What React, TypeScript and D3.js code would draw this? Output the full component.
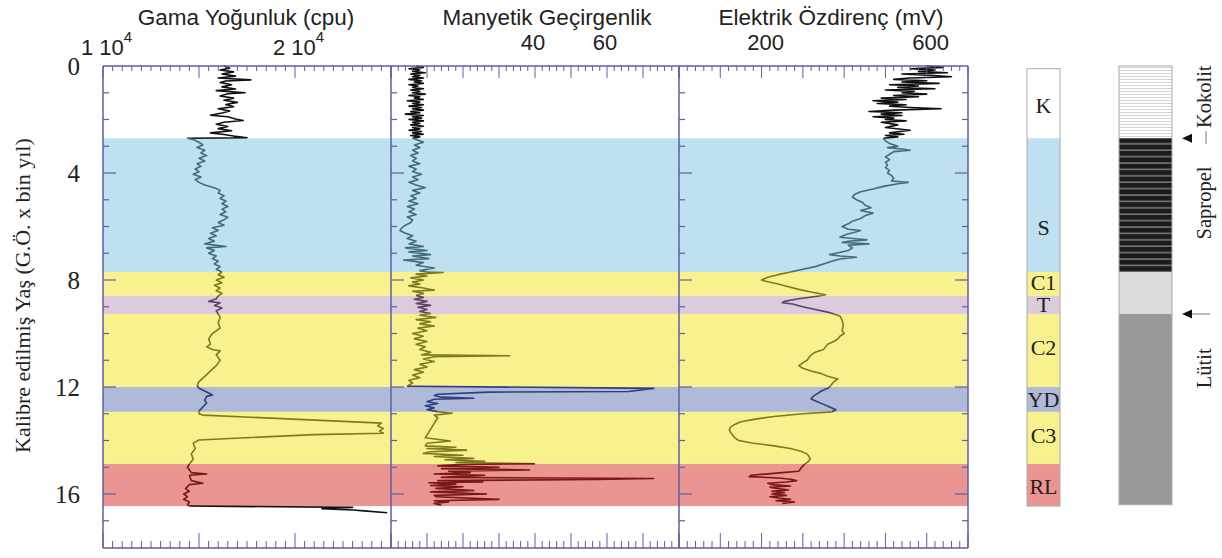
import React from 'react';
import * as d3 from 'd3';

// ---------- DATA ----------
const zoneNames = ['K', 'S', 'C1', 'T', 'C2', 'YD', 'C3', 'RL'];
const zoneStarts = [0.1, 2.7, 7.7, 8.6, 9.27, 12.0, 12.93, 14.88];
const zoneEnds = [2.7, 7.7, 8.6, 9.27, 12.0, 12.93, 14.88, 16.45];
const zoneLabelAges = [1.5, 6.05, 8.1, 8.95, 10.55, 12.5, 13.82, 15.72];

const lithKinds = ['Kokolit', 'Sapropel', 'Geçiş', 'Lütit'];
const lithStarts = [0, 2.7, 7.7, 9.27];
const lithEnds = [2.7, 7.7, 9.27, 16.4];
const lithLabels = ['Kokolit', 'Sapropel', 'Lütit'];
const lithLabelAges = [1.15, 5.12, 11.3];
const arrowAges = [2.7, 9.27];

const ageTicksMajor = [0, 4, 8, 12, 16];
const gammaTickLabels = [10000, 20000];
const magTickLabels = [40, 60];
const resTickLabels = [200, 600];

const panelTitles = ['Gama Yoğunluk (cpu)', 'Manyetik Geçirgenlik', 'Elektrik Özdirenç (mV)'];
const yTitle = 'Kalibre edilmiş Yaş (G.Ö. x bin yıl)';

// age (kyr), value
const gammaData: [number, number][] = [
  [0.0, 16300], [0.08, 16600], [0.15, 16100], [0.22, 16800], [0.3, 16200], [0.38, 16900], [0.45, 16000],
  [0.52, 17700], [0.56, 16400], [0.62, 16100], [0.7, 16700], [0.78, 16200], [0.86, 16900], [0.92, 15900],
  [1.0, 17400], [1.04, 16500], [1.12, 16100], [1.2, 16800], [1.28, 16300], [1.36, 17000], [1.44, 16400],
  [1.52, 16800], [1.6, 16000], [1.68, 16600], [1.76, 16200], [1.84, 15600], [1.9, 16500], [1.98, 16900],
  [2.04, 17300], [2.1, 16300], [2.18, 15900], [2.26, 16500], [2.34, 16000], [2.42, 16700], [2.5, 15600],
  [2.56, 16300], [2.62, 16800], [2.68, 17500], [2.7, 14400],
  [2.75, 14700], [2.85, 15000], [2.95, 15200], [3.05, 14900], [3.15, 15300], [3.25, 15100], [3.35, 15400],
  [3.45, 15000], [3.55, 15300], [3.65, 14900], [3.75, 15100], [3.85, 14800], [3.95, 15000], [4.05, 14700],
  [4.15, 15100], [4.25, 14800], [4.35, 15000], [4.45, 15300], [4.55, 15800], [4.65, 16100], [4.75, 16000],
  [4.85, 16300], [4.95, 16100], [5.05, 16400], [5.15, 16200], [5.25, 16500], [5.35, 16200], [5.45, 16400],
  [5.55, 16100], [5.65, 16500], [5.75, 16300], [5.85, 16000], [5.95, 16300], [6.05, 15700], [6.15, 16000],
  [6.25, 15600], [6.35, 15900], [6.45, 15500], [6.55, 15800], [6.65, 15300], [6.75, 16400], [6.8, 15400],
  [6.9, 15800], [7.0, 15500], [7.1, 15900], [7.2, 15700], [7.3, 16000], [7.4, 15800], [7.5, 16100],
  [7.6, 15900], [7.7, 16200],
  [7.8, 16000], [7.9, 16300], [8.0, 15900], [8.1, 16200], [8.2, 15800], [8.3, 16100], [8.4, 15900],
  [8.5, 16200], [8.6, 16000],
  [8.7, 15900], [8.8, 15500], [8.85, 16100], [8.95, 15800], [9.05, 16200], [9.15, 15900], [9.27, 16000],
  [9.4, 16100], [9.6, 16000], [9.8, 16100], [10.0, 15700], [10.2, 15500], [10.4, 15600], [10.5, 15400],
  [10.6, 15700], [10.65, 16100], [10.8, 15900], [11.0, 16100], [11.2, 15900], [11.4, 15600], [11.6, 15300],
  [11.8, 15000], [11.95, 14900],
  [12.05, 15000], [12.15, 15300], [12.3, 15700], [12.35, 15400], [12.5, 15300], [12.6, 15400], [12.75, 15200],
  [12.9, 15000],
  [13.0, 15000], [13.05, 15200], [13.35, 24500], [13.45, 24300], [13.55, 24600], [13.65, 24400], [13.73, 24600],
  [13.78, 21000], [13.98, 15000], [14.1, 14700], [14.3, 14800], [14.5, 14600], [14.7, 14700], [14.88, 14500],
  [15.0, 14400], [15.2, 14600], [15.25, 15400], [15.3, 14500], [15.5, 14600], [15.6, 15200], [15.65, 14500],
  [15.8, 14300], [15.9, 14500], [16.0, 14200], [16.1, 14400], [16.2, 14200], [16.3, 14500], [16.4, 14400],
  [16.45, 14500],
  [16.5, 23000], [16.55, 21400], [16.6, 23000], [16.63, 23600], [16.7, 24800],
];

const magData: [number, number][] = [
  [0.0, 7], [0.05, 9], [0.1, 5], [0.15, 8], [0.2, 6], [0.25, 9.5], [0.3, 5.5], [0.35, 8], [0.4, 6], [0.45, 9],
  [0.5, 5], [0.55, 8.5], [0.6, 6.5], [0.65, 9], [0.7, 5], [0.75, 7.5], [0.8, 6], [0.85, 9], [0.9, 5.5],
  [0.95, 8], [1.0, 6], [1.05, 9.5], [1.1, 5], [1.15, 8], [1.2, 6.5], [1.25, 9], [1.3, 4.5], [1.35, 8],
  [1.4, 6], [1.45, 9], [1.5, 5], [1.55, 8.5], [1.6, 6], [1.65, 9], [1.7, 5.5], [1.75, 8], [1.8, 4], [1.85, 9],
  [1.9, 6], [1.95, 8.5], [2.0, 5], [2.05, 9], [2.1, 6], [2.15, 8], [2.2, 5.5], [2.25, 9], [2.3, 6], [2.35, 8],
  [2.4, 5], [2.45, 8.5], [2.5, 6], [2.55, 9], [2.6, 5.5], [2.65, 8], [2.7, 6],
  [2.75, 7], [2.85, 9], [2.95, 6.5], [3.05, 8], [3.15, 6], [3.25, 7.5], [3.35, 5.5], [3.45, 7], [3.55, 6],
  [3.65, 8], [3.75, 5], [3.85, 7], [3.95, 6], [4.05, 8.5], [4.15, 6], [4.25, 7.5], [4.35, 5], [4.45, 7],
  [4.55, 9.5], [4.65, 6], [4.75, 8], [4.85, 5.5], [4.95, 7], [5.05, 5], [5.15, 7.5], [5.25, 4.5], [5.35, 6.5],
  [5.45, 5], [5.55, 7], [5.65, 4.5], [5.75, 6], [5.85, 5.5], [5.95, 4], [6.05, 3], [6.15, 2.5], [6.25, 4],
  [6.35, 6], [6.45, 4.5], [6.55, 7], [6.65, 5], [6.75, 9], [6.8, 4], [6.9, 10], [6.95, 5], [7.05, 11],
  [7.1, 6], [7.2, 10.5], [7.25, 3.5], [7.35, 9], [7.45, 7], [7.55, 12], [7.65, 8], [7.7, 10],
  [7.72, 14.5], [7.78, 7], [7.85, 10], [7.92, 5.5], [8.0, 9], [8.08, 6], [8.15, 8], [8.22, 5], [8.3, 9],
  [8.38, 12], [8.42, 6], [8.5, 9], [8.58, 7],
  [8.65, 9], [8.72, 6.5], [8.8, 10], [8.88, 7], [8.95, 11], [9.02, 7.5], [9.1, 10], [9.18, 8], [9.25, 11],
  [9.32, 8], [9.4, 12.5], [9.48, 7], [9.56, 11], [9.64, 8], [9.72, 12], [9.8, 7.5], [9.9, 10], [10.0, 6],
  [10.1, 9], [10.2, 6.5], [10.3, 10], [10.4, 7], [10.5, 9.5], [10.6, 8], [10.7, 11], [10.8, 8.5], [10.83, 33],
  [10.87, 12], [10.95, 9], [11.05, 12], [11.15, 8], [11.25, 10], [11.35, 6.5], [11.45, 9], [11.55, 6],
  [11.65, 8], [11.75, 5], [11.85, 6], [11.97, 4.5],
  [12.05, 73], [12.17, 66], [12.19, 27], [12.27, 13], [12.32, 12], [12.38, 14], [12.42, 23], [12.46, 12],
  [12.55, 10], [12.62, 13], [12.7, 9.5], [12.78, 12], [12.85, 10], [12.92, 13],
  [12.98, 17], [13.05, 12], [13.15, 13], [13.9, 9.5], [14.02, 16.5], [14.1, 10], [14.2, 9.5], [14.25, 18],
  [14.3, 10], [14.36, 21], [14.42, 11], [14.48, 9], [14.55, 20], [14.6, 12], [14.67, 23], [14.72, 15],
  [14.78, 26], [14.82, 18], [14.87, 40],
  [14.9, 19], [14.95, 13], [15.0, 30], [15.05, 14], [15.1, 38.5], [15.15, 16], [15.2, 22], [15.25, 12],
  [15.3, 26], [15.38, 14], [15.42, 73], [15.46, 57], [15.5, 13], [15.55, 25.5], [15.58, 10.5], [15.63, 18],
  [15.68, 11], [15.73, 20], [15.79, 12.5], [15.87, 23], [15.92, 11], [16.0, 26.5], [16.05, 12], [16.1, 12.5],
  [16.2, 30], [16.25, 12], [16.3, 16], [16.35, 12], [16.42, 14],
];

const resData: [number, number][] = [
  [0.0, 600], [0.05, 640], [0.1, 560], [0.15, 620], [0.2, 580], [0.25, 650], [0.3, 540], [0.35, 610],
  [0.4, 660], [0.45, 560], [0.5, 520], [0.55, 600], [0.6, 540], [0.65, 630], [0.7, 510], [0.75, 580],
  [0.8, 530], [0.85, 620], [0.9, 500], [0.95, 570], [1.0, 540], [1.05, 600], [1.1, 520], [1.15, 580],
  [1.2, 490], [1.25, 550], [1.3, 470], [1.35, 530], [1.4, 480], [1.45, 550], [1.5, 510], [1.55, 560],
  [1.6, 635], [1.65, 520], [1.7, 460], [1.75, 540], [1.8, 490], [1.85, 540], [1.9, 470], [1.95, 520],
  [2.0, 500], [2.05, 550], [2.1, 490], [2.2, 530], [2.3, 500], [2.4, 560], [2.5, 510], [2.55, 545],
  [2.6, 500], [2.65, 530], [2.7, 495],
  [2.8, 500], [2.9, 510], [3.0, 530], [3.05, 505], [3.1, 540], [3.15, 560], [3.2, 520], [3.3, 510],
  [3.4, 500], [3.5, 510], [3.6, 500], [3.7, 505], [3.8, 500], [3.9, 510], [4.0, 505], [4.1, 515],
  [4.2, 520], [4.3, 515], [4.35, 555], [4.4, 530], [4.5, 495], [4.6, 470], [4.7, 440], [4.8, 425],
  [4.9, 420], [5.0, 430], [5.1, 445], [5.2, 450], [5.3, 465], [5.4, 440], [5.5, 470], [5.6, 450],
  [5.7, 440], [5.8, 420], [5.9, 410], [6.0, 395], [6.1, 410], [6.15, 440], [6.2, 430], [6.3, 405],
  [6.4, 390], [6.45, 420], [6.5, 455], [6.55, 410], [6.6, 395], [6.65, 460], [6.7, 410], [6.8, 420],
  [6.9, 410], [7.0, 380], [7.05, 365], [7.1, 390], [7.15, 430], [7.2, 395], [7.3, 370], [7.4, 350],
  [7.5, 330], [7.6, 300], [7.7, 270],
  [7.8, 240], [7.9, 215], [8.0, 200], [8.05, 210], [8.15, 240], [8.25, 265], [8.35, 290], [8.45, 320],
  [8.55, 355], [8.6, 340],
  [8.7, 290], [8.8, 255], [8.85, 250], [8.9, 275], [9.0, 300], [9.1, 330], [9.2, 360], [9.27, 375],
  [9.35, 390], [9.5, 395], [9.7, 398], [9.9, 395], [10.0, 400], [10.1, 390], [10.2, 385], [10.3, 375],
  [10.4, 360], [10.5, 355], [10.6, 350], [10.7, 330], [10.8, 320], [10.9, 315], [11.0, 310], [11.1, 300],
  [11.2, 290], [11.3, 300], [11.4, 320], [11.5, 345], [11.6, 360], [11.7, 385], [11.8, 375], [11.9, 370],
  [12.0, 365],
  [12.05, 360], [12.15, 345], [12.25, 335], [12.35, 325], [12.45, 320], [12.55, 335], [12.65, 350],
  [12.75, 365], [12.85, 380],
  [12.93, 370], [13.0, 300], [13.1, 230], [13.2, 185], [13.3, 150], [13.4, 135], [13.5, 125], [13.6, 122],
  [13.7, 125], [13.8, 130], [13.9, 135], [14.0, 145], [14.1, 180], [14.2, 230], [14.3, 270], [14.4, 295],
  [14.5, 310], [14.6, 315], [14.7, 318], [14.8, 312], [14.88, 305],
  [14.95, 300], [15.05, 295], [15.15, 290], [15.2, 250], [15.3, 175], [15.35, 170], [15.4, 240], [15.45, 270],
  [15.5, 285], [15.55, 260], [15.6, 215], [15.65, 225], [15.7, 270], [15.75, 220], [15.8, 240], [15.85, 265],
  [15.9, 225], [15.95, 255], [16.0, 225], [16.05, 260], [16.1, 220], [16.15, 240], [16.2, 270], [16.25, 235],
  [16.3, 280], [16.35, 250],
];

// ---------- STYLE ----------
const W = 1222;
const H = 558;
const TOP = 66;
const BOTTOM = 548;
const AXIS = '#5e5ea6';
const SERIF = '"Liberation Serif", "Times New Roman", serif';
const SANS = '"Liberation Sans", Arial, sans-serif';

const bandFill: Record<string, string> = {
  K: '#ffffff', S: '#bfe0f1', C1: '#f7f18e', T: '#dccadd', C2: '#f7f18e', YD: '#aebad8', C3: '#f7f18e', RL: '#ea9591',
};
const lineCol: Record<string, string> = {
  K: '#111111', S: '#3f6c7e', C1: '#7e7a20', T: '#5a4566', C2: '#7e7a20', YD: '#2d3f7e', C3: '#7e7a20', RL: '#7a1717',
};

const y = d3.scaleLinear().domain([0, 18]).range([TOP, 547.5]);
const xG = d3.scaleLinear().domain([10000, 25000]).range([103, 391]);
const xM = d3.scaleLinear().domain([0, 80]).range([391, 679]);
const xR = d3.scaleLinear().domain([0, 700]).range([679, 968]);

function zoneOf(age: number) {
  for (let i = 0; i < zoneNames.length; i++) {
    if (age >= zoneStarts[i] && age < zoneEnds[i]) return zoneNames[i];
  }
  return null;
}

function segments(data: [number, number][]) {
  const out: { color: string; pts: [number, number][] }[] = [];
  let cur: { color: string; pts: [number, number][] } | null = null;
  for (let i = 1; i < data.length; i++) {
    const mid = (data[i - 1][0] + data[i][0]) / 2;
    const z = zoneOf(mid);
    const c = z ? lineCol[z] : '#111111';
    if (!cur || cur.color !== c) {
      cur = { color: c, pts: [data[i - 1]] };
      out.push(cur);
    }
    cur.pts.push(data[i]);
  }
  return out;
}

function Curve({ data, xs }: { data: [number, number][]; xs: d3.ScaleLinear<number, number> }) {
  const line = d3.line<[number, number]>().x((d) => xs(d[1])).y((d) => y(d[0]));
  return (
    <g>
      {segments(data).map((s, i) => (
        <path key={i} d={line(s.pts) || ''} fill="none" stroke={s.color} strokeWidth={1.6} strokeLinejoin="round" />
      ))}
    </g>
  );
}

function XTicks({ xs, step, majorEvery }: { xs: d3.ScaleLinear<number, number>; step: number; majorEvery: number }) {
  const [d0, d1] = xs.domain();
  const vals = d3.range(d0, d1 + step / 2, step);
  return (
    <g stroke={AXIS} strokeWidth={1}>
      {vals.map((v, i) => {
        const isMajor = Math.abs(((v - d0) / majorEvery) - Math.round((v - d0) / majorEvery)) < 1e-6;
        const x = xs(v);
        return (
          <g key={i}>
            <line x1={x} x2={x} y1={TOP} y2={TOP + (isMajor ? 12 : 5)} />
            <line x1={x} x2={x} y1={BOTTOM} y2={BOTTOM - (isMajor ? 15 : 7)} />
          </g>
        );
      })}
    </g>
  );
}

function YTicks({ x, dir }: { x: number; dir: number }) {
  const vals = d3.range(1, 18);
  return (
    <g stroke={AXIS} strokeWidth={1.2}>
      {vals.map((v) => {
        const major = v % 4 === 0;
        return <line key={v} x1={x} x2={x + dir * (major ? 13 : 6)} y1={y(v)} y2={y(v)} />;
      })}
    </g>
  );
}

export default function App() {
  const left = xG.range()[0];
  const right = xR.range()[1];
  const zoneColX0 = 1027;
  const zoneColX1 = 1060;
  const lithX0 = 1119;
  const lithX1 = 1172;

  return (
    <svg width={W} height={H} style={{ position: 'absolute', left: 0, top: 0, background: '#fff' }}>
      <defs>
        <pattern id="kokolit" width="6" height="3" patternUnits="userSpaceOnUse">
          <rect width="6" height="3" fill="#ffffff" />
          <line x1="0" x2="6" y1="1.5" y2="1.5" stroke="#c8c8c8" strokeWidth="0.8" />
        </pattern>
        <pattern id="sapropel" width="6" height="6.4" patternUnits="userSpaceOnUse" y={y(2.7)}>
          <rect width="6" height="6.4" fill="#1c1c1c" />
          <line x1="0" x2="6" y1="5.6" y2="5.6" stroke="#8a8a8a" strokeWidth="1.3" />
        </pattern>
      </defs>

      {/* zone bands */}
      {zoneNames.map((z, i) =>
        z === 'K' ? null : (
          <rect key={z} x={left} width={right - left} y={y(zoneStarts[i])} height={y(zoneEnds[i]) - y(zoneStarts[i])} fill={bandFill[z]} />
        )
      )}

      {/* curves */}
      <Curve data={gammaData} xs={xG} />
      <Curve data={magData} xs={xM} />
      <Curve data={resData} xs={xR} />

      {/* frames */}
      <g stroke={AXIS} strokeWidth={1.5} fill="none">
        <line x1={left} x2={right} y1={TOP} y2={TOP} />
        <line x1={left} x2={right} y1={BOTTOM} y2={BOTTOM} />
        {[xG.range()[0], xM.range()[0], xR.range()[0], xR.range()[1]].map((x, i) => (
          <line key={i} x1={x} x2={x} y1={TOP} y2={BOTTOM} />
        ))}
      </g>
      <XTicks xs={xG} step={500} majorEvery={5000} />
      <XTicks xs={xM} step={2} majorEvery={10} />
      <XTicks xs={xR} step={20} majorEvery={100} />
      <YTicks x={xG.range()[0]} dir={1} />
      <YTicks x={xM.range()[0]} dir={1} />
      <YTicks x={xR.range()[0]} dir={1} />
      <YTicks x={xR.range()[1]} dir={-1} />

      {/* y tick labels */}
      {ageTicksMajor.map((v) => (
        <text key={v} x={80} y={y(v) + 8.5} textAnchor="end" fontFamily={SERIF} fontSize={25} fill="#222">
          {v}
        </text>
      ))}
      <text
        transform={`translate(30, 453) rotate(-90)`}
        textAnchor="start"
        fontFamily={SERIF}
        fontSize={22}
        fill="#222"
      >
        {yTitle}
      </text>

      {/* panel titles */}
      {[246, 547, 831].map((cx, i) => (
        <text key={i} x={cx} y={25} textAnchor="middle" fontFamily={SANS} fontSize={22.5} fill="#222">
          {panelTitles[i]}
        </text>
      ))}

      {/* x tick labels */}
      {gammaTickLabels.map((v) => (
        <text key={v} x={xG(v) - 22} y={55} fontFamily={SANS} fontSize={22} fill="#222">
          {`${v / 10000} 10`}
          <tspan dy={-13} fontSize={15}>4</tspan>
        </text>
      ))}
      {magTickLabels.map((v) => (
        <text key={v} x={xM(v) - 2} y={50} textAnchor="middle" fontFamily={SANS} fontSize={22} fill="#222">
          {v}
        </text>
      ))}
      {resTickLabels.map((v) => (
        <text key={v} x={xR(v) + 4} y={50} textAnchor="middle" fontFamily={SANS} fontSize={22} fill="#222">
          {v}
        </text>
      ))}

      {/* zone column */}
      {zoneNames.map((z, i) => (
        <rect
          key={z}
          x={zoneColX0}
          width={zoneColX1 - zoneColX0}
          y={y(zoneStarts[i])}
          height={y(zoneEnds[i]) - y(zoneStarts[i])}
          fill={bandFill[z]}
        />
      ))}
      <rect
        x={zoneColX0}
        width={zoneColX1 - zoneColX0}
        y={y(zoneStarts[0])}
        height={y(zoneEnds[zoneEnds.length - 1]) - y(zoneStarts[0])}
        fill="none"
        stroke="#aaa"
        strokeWidth={1}
      />
      {zoneNames.map((z, i) => (
        <text
          key={z}
          x={(zoneColX0 + zoneColX1) / 2}
          y={y(zoneLabelAges[i]) + 7}
          textAnchor="middle"
          fontFamily={SERIF}
          fontSize={22}
          fill="#222"
        >
          {z}
        </text>
      ))}

      {/* lithology column */}
      {lithKinds.map((k, i) => (
        <rect
          key={k}
          x={lithX0}
          width={lithX1 - lithX0}
          y={y(lithStarts[i])}
          height={y(lithEnds[i]) - y(lithStarts[i])}
          fill={k === 'Kokolit' ? 'url(#kokolit)' : k === 'Sapropel' ? 'url(#sapropel)' : k === 'Geçiş' ? '#dcdcdc' : '#999999'}
        />
      ))}
      <rect
        x={lithX0}
        width={lithX1 - lithX0}
        y={y(lithStarts[0])}
        height={y(lithEnds[lithEnds.length - 1]) - y(lithStarts[0])}
        fill="none"
        stroke="#aaa"
        strokeWidth={1}
      />
      {lithLabels.map((l, i) => (
        <text
          key={l}
          transform={`translate(1211, ${y(lithLabelAges[i])}) rotate(-90)`}
          textAnchor="middle"
          fontFamily={SERIF}
          fontSize={20.5}
          fill="#222"
        >
          {l}
        </text>
      ))}
      {arrowAges.map((a, i) => {
        const ay = y(a);
        return (
          <g key={i}>
            <path d={`M1182,${ay} L1192,${ay - 4.5} L1192,${ay + 4.5} Z`} fill="#111" />
            {i === 0 ? (
              <line x1={1206} x2={1206} y1={ay - 7} y2={ay + 6} stroke="#777" strokeWidth={1} />
            ) : (
              <line x1={1192} x2={1210} y1={ay} y2={ay} stroke="#777" strokeWidth={1} />
            )}
          </g>
        );
      })}
    </svg>
  );
}
